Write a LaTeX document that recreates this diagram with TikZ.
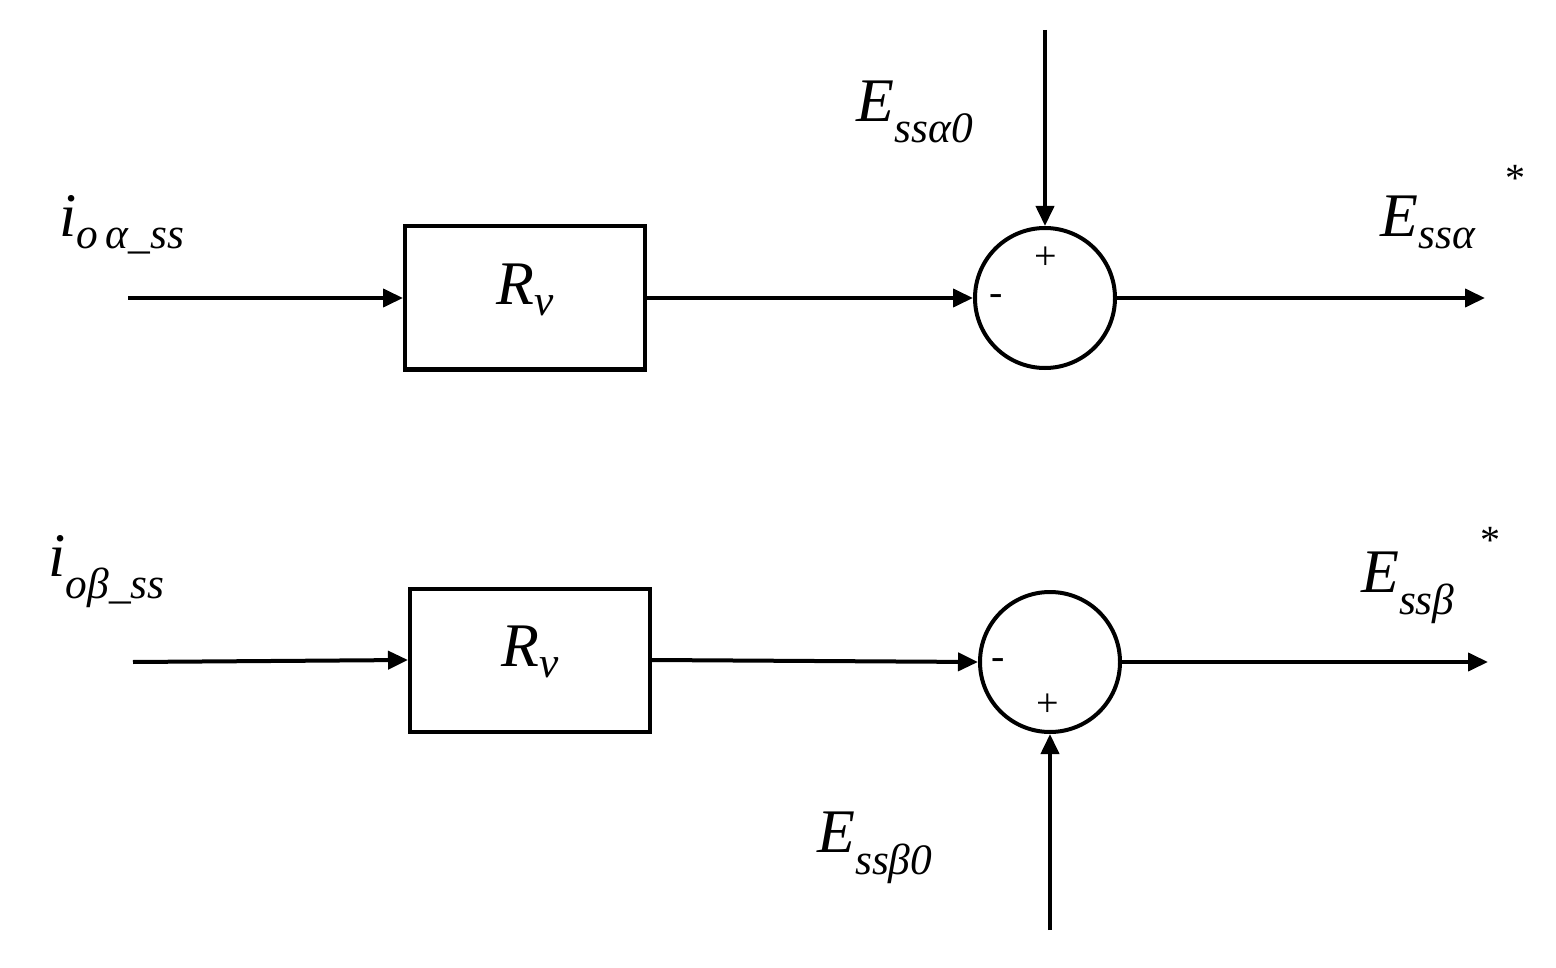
\documentclass[tikz,border=0pt]{standalone}
\usepackage{fontspec}
\setmainfont{Liberation Serif}
\usetikzlibrary{arrows.meta}
\begin{document}
\begin{tikzpicture}[x=1pt,y=-1pt,
  ln/.style={line width=4pt},
  arr/.style={ln,-{Triangle[length=20pt,width=18pt]}},
  blk/.style={draw,line width=4pt,minimum width=240pt,minimum height=143pt,inner sep=0pt},
  sum/.style={draw,line width=4pt,circle,minimum size=140pt,inner sep=0pt},
  lab/.style={font=\fontsize{62}{70}\selectfont\itshape,inner sep=0pt},
  sg/.style={font=\fontsize{40}{44}\selectfont,inner sep=0pt}]
\useasboundingbox (0,0) rectangle (1556,968);
% top
\coordinate (ia) at (128,298);
\node[blk] (b1) at (525,298) {};
\node[lab] at (525,290) {R\textsubscript{v}};
\node[sum] (s1) at (1045,298) {};
\coordinate (ea0) at (1045,30);
\coordinate (oa) at (1485,298);
\draw[arr] (ia) -- (b1.west);
\draw[arr] (b1.east) -- (s1.west);
\draw[arr] (ea0) -- (s1.north);
\draw[arr] (s1.east) -- (oa);
\node[sg] at (1046,258) {+};
\node[sg] at (996,300) {-};
\node[lab] at (122,225) {i\textsubscript{o\,α\_ss}};
\node[lab] at (915,112) {E\textsubscript{ssα0}};
\node[lab] at (1428,222) {E\textsubscript{ssα}};
\node[sg] at (1515,178) {*};
% bottom
\coordinate (ib) at (133,662);
\node[blk] (b2) at (530,660) {};
\node[lab] at (530,652) {R\textsubscript{v}};
\node[sum] (s2) at (1050,662) {};
\coordinate (eb0) at (1050,930);
\coordinate (ob) at (1488,662);
\draw[arr] (ib) -- (b2.west);
\draw[arr] (b2.east) -- (s2.west);
\draw[arr] (eb0) -- (s2.south);
\draw[arr] (s2.east) -- (ob);
\node[sg] at (1048,705) {+};
\node[sg] at (998,664) {-};
\node[lab] at (107,572) {i\textsubscript{oβ\_ss}};
\node[lab] at (875,848) {E\textsubscript{ssβ0}};
\node[lab] at (1408,588) {E\textsubscript{ssβ}};
\node[sg] at (1490,540) {*};
\end{tikzpicture}
\end{document}
